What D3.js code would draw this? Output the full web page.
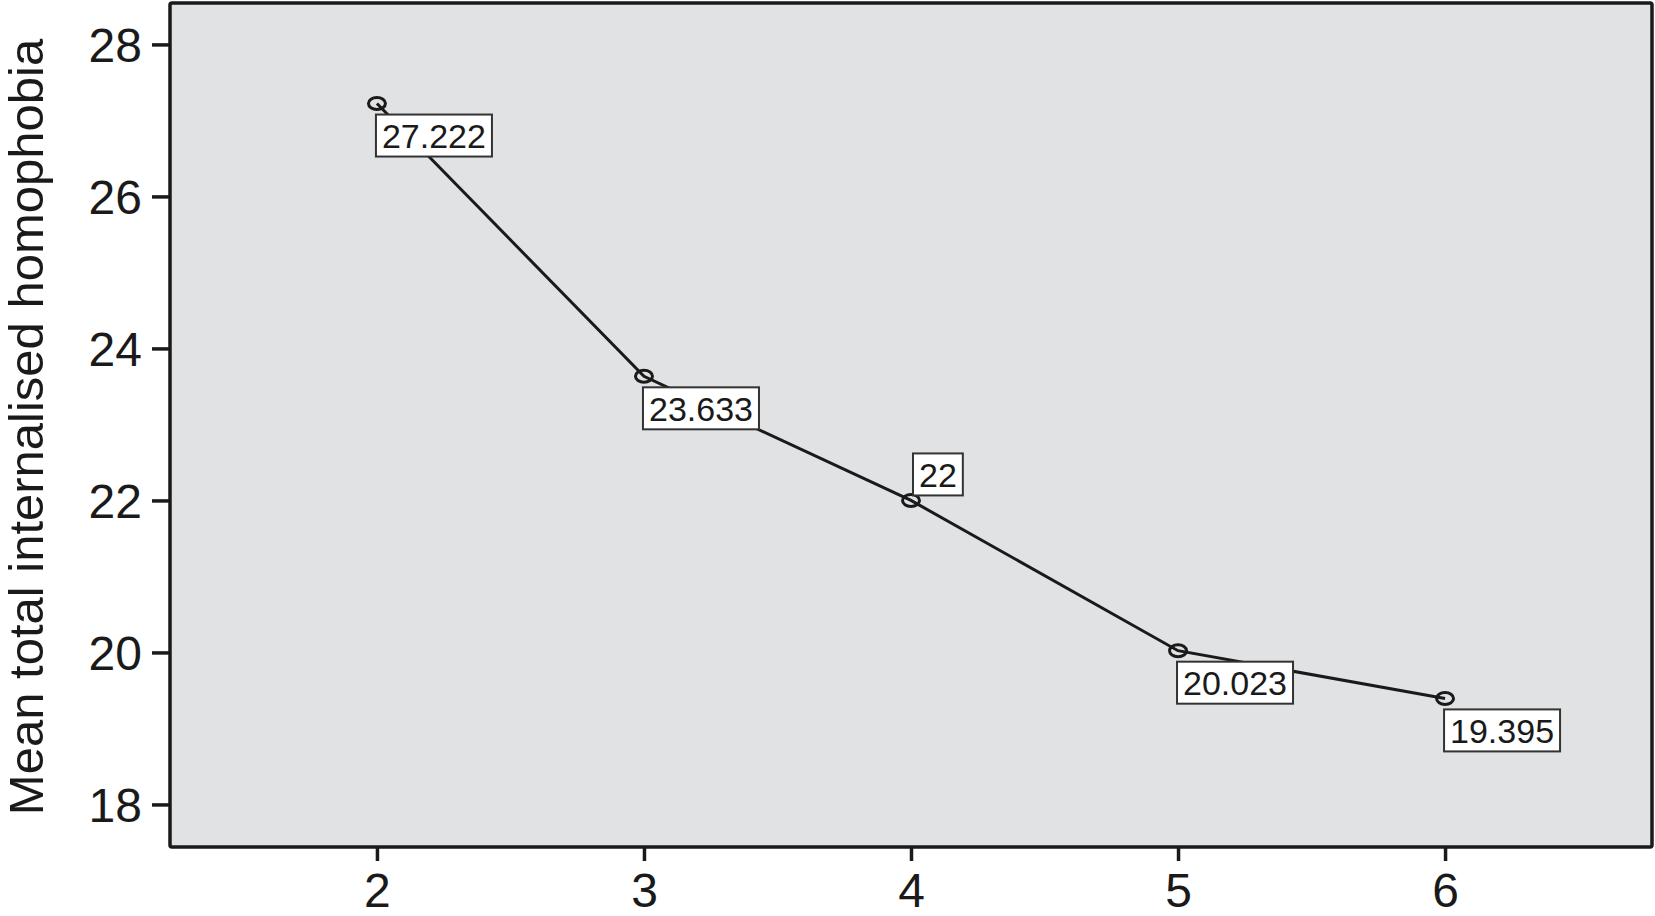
<!DOCTYPE html>
<html>
<head>
<meta charset="utf-8">
<script src="https://cdn.jsdelivr.net/npm/d3@7"></script>
<style>
  body { margin: 0; background: #fff; }
  svg text { font-family: "Liberation Sans", Arial, sans-serif; fill: #1a1a1a; }
</style>
</head>
<body>
<div id="chart"></div>
<script>
// values
var groups = [2, 3, 4, 5, 6];
var means = [27.222, 23.633, 22, 20.023, 19.395];
var meanLabels = ["27.222", "23.633", "22", "20.023", "19.395"];
var yTicks = [18, 20, 22, 24, 26, 28];
var yTitle = "Mean total internalised homophobia";

var W = 1655, H = 916;
var margin = {top: 3, right: 3, bottom: 69, left: 170},
    width = W - margin.left - margin.right,
    height = H - margin.top - margin.bottom;

var svg = d3.select("#chart").append("svg")
    .attr("width", W)
    .attr("height", H);

var g = svg.append("g")
    .attr("transform", "translate(" + margin.left + "," + margin.top + ")");

var x = d3.scaleLinear().domain([1.225, 6.775]).range([0, width]);
var y = d3.scaleLinear().domain([17.44, 28.545]).range([height, 0]);

// plot area
g.append("rect")
    .attr("width", width)
    .attr("height", height)
    .style("fill", "#e1e2e4");

var xAxis = d3.axisBottom(x).tickValues(groups).tickFormat(d3.format("d"))
    .tickSize(14).tickPadding(12);
var yAxis = d3.axisLeft(y).tickValues(yTicks).tickFormat(d3.format("d"))
    .tickSize(18).tickPadding(10);

var gx = g.append("g")
    .attr("transform", "translate(0," + height + ")")
    .call(xAxis);
var gy = g.append("g").call(yAxis);

[gx, gy].forEach(function(a){
  a.select(".domain").remove();
  a.selectAll(".tick line").style("stroke", "#1a1a1a").style("stroke-width", 3.5);
  a.selectAll(".tick text").style("font-size", "48px").style("fill", "#1a1a1a")
    .style("font-family", "'Liberation Sans', Arial, sans-serif");
});
gx.selectAll(".tick text").attr("dy", "0.71em");
gy.selectAll(".tick text").attr("dy", "0.36em");

// frame
g.append("rect")
    .attr("width", width)
    .attr("height", height)
    .attr("rx", 2)
    .style("fill", "none")
    .style("stroke", "#1a1a1a")
    .style("stroke-width", 3.5);

// y title
svg.append("text")
    .attr("transform", "translate(43," + (margin.top + height / 2 + 2) + ") rotate(-90)")
    .style("text-anchor", "middle")
    .style("font-size", "49px")
    .text(yTitle);

var data = groups.map(function(d, i){
  return {grp: d, mean: means[i], label: meanLabels[i]};
});

var line = d3.line()
    .x(function(d){ return x(d.grp); })
    .y(function(d){ return y(d.mean); });

g.append("path")
    .datum(data)
    .attr("d", line)
    .style("fill", "none")
    .style("stroke", "#1a1a1a")
    .style("stroke-width", 3);

g.selectAll(".pt")
    .data(data)
  .enter().append("ellipse")
    .attr("class", "pt")
    .attr("cx", function(d){ return x(d.grp); })
    .attr("cy", function(d){ return y(d.mean); })
    .attr("rx", 8.5)
    .attr("ry", 6)
    .style("fill", "none")
    .style("stroke", "#1a1a1a")
    .style("stroke-width", 3);

// value boxes
var lab = g.selectAll(".lab")
    .data(data)
  .enter().append("g")
    .attr("class", "lab");

lab.append("rect");
lab.append("text")
    .style("font-size", "34px")
    .text(function(d){ return d.label; });

lab.each(function(d, i){
  var el = d3.select(this),
      t = el.select("text"),
      tw = t.node().getBBox().width,
      bw = tw + 12, bh = 42,
      px = x(d.grp), py = y(d.mean),
      above = d.grp === 4,
      bx = above ? px + 2 : px - 1,
      by = above ? py - 5 - bh : py + 11;

  el.select("rect")
      .attr("x", bx).attr("y", by)
      .attr("width", bw).attr("height", bh)
      .style("fill", "#fff")
      .style("stroke", "#333")
      .style("stroke-width", 2);
  t.attr("x", bx + 6).attr("y", by + bh / 2).attr("dy", "0.36em");
});
</script>
</body>
</html>
